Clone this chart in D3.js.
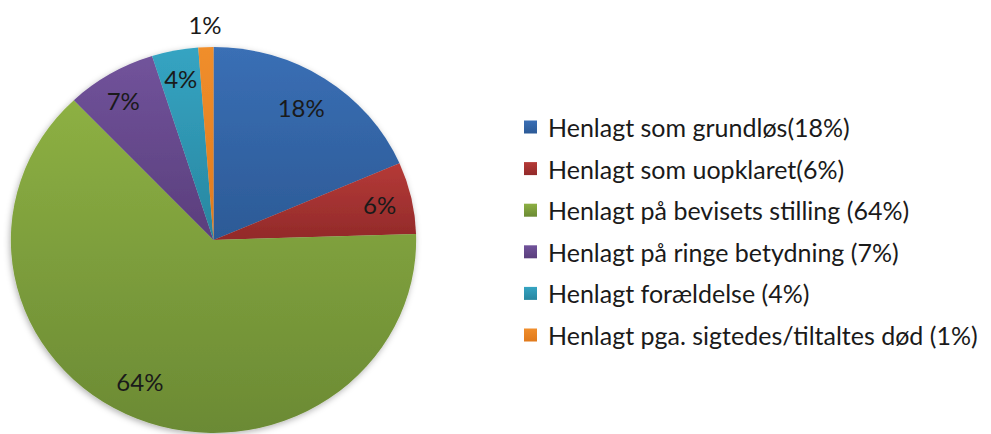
<!DOCTYPE html>
<html><head><meta charset="utf-8">
<script src="https://cdn.jsdelivr.net/npm/d3@7"></script>
<style>body{margin:0;background:#fff}svg{display:block}</style>
</head><body>
<svg id="c" width="991" height="434"></svg>
<script>
const categories = ["Henlagt som grundløs(18%)","Henlagt som uopklaret(6%)","Henlagt på bevisets stilling (64%)","Henlagt på ringe betydning (7%)","Henlagt forældelse (4%)","Henlagt pga. sigtedes/tiltaltes død (1%)"];
const values = [18.5, 6.0, 63.4, 7.2, 3.7, 1.2];
const sliceLabels = ["18%","6%","64%","7%","4%","1%"];
const colorsLight = ["#3a6fb5","#b53a37","#8db043","#71539b","#35a4c2","#f08e2c"];
const colorsDark = ["#2c5a96","#922a2a","#6b8a34","#5a3e7c","#2886a0","#e07a1c"];

const svg = d3.select("#c");
const defs = svg.append("defs");
colorsLight.forEach((c,i)=>{
  const g = defs.append("linearGradient").attr("id","g"+i).attr("x1",0).attr("y1",0).attr("x2",0).attr("y2",1);
  g.append("stop").attr("offset","0%").attr("stop-color",c);
  g.append("stop").attr("offset","100%").attr("stop-color",colorsDark[i]);
});
const f = defs.append("filter").attr("id","sh").attr("x","-10%").attr("y","-10%").attr("width","120%").attr("height","120%");
f.append("feDropShadow").attr("dx",-1).attr("dy",2).attr("stdDeviation",3).attr("flood-color","#000").attr("flood-opacity",0.3);

const cx = 213.5, cy = 240, R = 193, sx = 1.05;
const pie = d3.pie().sort(null).value(d=>d);
const arcs = pie(values);
const arc = d3.arc().innerRadius(0).outerRadius(R);
const g = svg.append("g").attr("transform",`translate(${cx},${cy}) scale(${sx},1)`);
g.append("g").attr("filter","url(#sh)").selectAll("path").data(arcs).join("path")
  .attr("d",arc).attr("fill",(d,i)=>`url(#g${i})`);

const labelR = [0.81,0.84,0.82,0.85,0.85,1.12];
const labelShift = [-1,0,4,-1,0,0];
const tl = svg.append("g").attr("transform",`translate(${cx},${cy})`);
arcs.forEach((d,i)=>{
  const a = (d.startAngle+d.endAngle)/2 + labelShift[i]*Math.PI/180;
  const r = R*labelR[i];
  tl.append("text").attr("x",Math.sin(a)*r*sx).attr("y",-Math.cos(a)*r)
    .attr("text-anchor","middle").attr("dominant-baseline","central")
    .attr("font-family","Lato, 'Open Sans', sans-serif").attr("font-size",24)
    .attr("fill","#1a1a1a").text(sliceLabels[i]);
});

const leg = svg.append("g").attr("transform","translate(524,127)");
categories.forEach((c,i)=>{
  const row = leg.append("g").attr("transform",`translate(0,${i*41.6})`);
  row.append("rect").attr("x",0).attr("y",-6.5).attr("width",13).attr("height",13).attr("fill",`url(#g${i})`);
  row.append("text").attr("x",24).attr("y",0).attr("dominant-baseline","central")
    .attr("font-family","Lato, 'Open Sans', sans-serif").attr("font-size",25)
    .attr("fill","#1a1a1a").text(c);
});
</script>
</body></html>
